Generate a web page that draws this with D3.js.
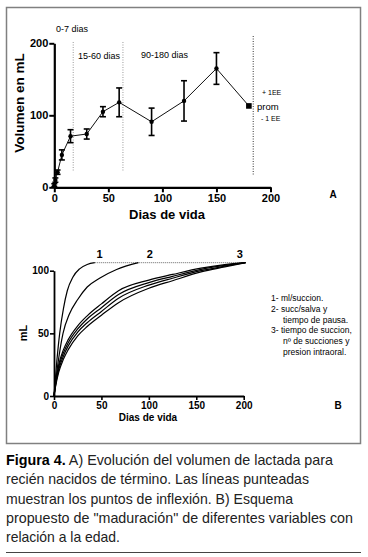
<!DOCTYPE html>
<html><head><meta charset="utf-8">
<script src="https://cdn.jsdelivr.net/npm/d3@7"></script>
<style>
html,body{margin:0;padding:0;background:#fff;}
svg{display:block;font-family:"Liberation Sans",Arial,sans-serif;}
</style></head>
<body>
<svg id="c" width="368" height="557"></svg>
<script>
// ---------- Data: panel A ----------
const daysA = [0, 1, 3, 7, 15, 30, 45, 60, 90, 120, 150, 180];
const meanA = [3, 10, 21, 45, 71, 74, 105, 118, 91, 120, 165, 113];
const seA   = [2, 3, 3, 7, 9, 7, 7, 20, 19, 28, 22, 0];
const inflectionDays = [17.5, 63.5, 184];
const ticksAx = [0, 50, 100, 150, 200];
const ticksAy = [0, 100, 200];
const periodLabels = ["0-7 dias", "15-60 dias", "90-180 dias"];

// ---------- Data: panel B ----------
const daysB1 = [0, 3, 6, 10, 14, 20, 27, 35, 43];
const curveB1 = [0, 28, 50, 70, 84, 95, 101.5, 105, 106.4];
const daysB2 = [0, 4, 9.5, 16, 25, 35, 48, 66, 89];
const curveB2 = [0, 25, 50, 65, 77, 87, 94, 101, 106.4];
const daysB3 = [0, 2, 5, 10, 15, 25, 35, 50, 68, 100, 125, 155, 180, 202];
const curveB3a = [0, 12, 25, 37, 45, 56, 64, 73.5, 84, 92.5, 97, 102, 104.8, 106.4];
const curveB3b = [0, 11, 23, 34.5, 42.5, 53.5, 61.5, 70.5, 81, 90.5, 95.5, 101, 104.2, 106.4];
const curveB3c = [0, 10, 21, 32, 40, 51, 58.5, 67.5, 78, 88.5, 94, 100, 103.6, 106.4];
const curveB3d = [0, 9, 19, 29.5, 37, 48, 55.5, 64.5, 74.5, 86, 92, 99, 103, 106.4];
const plateauB = {from: 43, to: 201, value: 106.4};
const curveLabels = [{t: "1", day: 48}, {t: "2", day: 101}, {t: "3", day: 196}];
const ticksBx = [0, 50, 100, 150, 200];
const ticksBy = [0, 50, 100];
const legendB = [
  {t: "1- ml/succion.", indent: false},
  {t: "2- succ/salva y", indent: false},
  {t: "tiempo de pausa.", indent: true},
  {t: "3- tiempo de succion,", indent: false},
  {t: "n\u00ba de succiones y", indent: true},
  {t: "presion intraoral.", indent: true}
];
const caption = [
  {b: "Figura 4.", r: " A) Evoluci\u00f3n del volumen de lactada para", w: 327},
  {b: "", r: "reci\u00e9n nacidos de t\u00e9rmino. Las l\u00edneas punteadas", w: 303},
  {b: "", r: "muestran los puntos de inflexi\u00f3n. B) Esquema", w: 287},
  {b: "", r: "propuesto de \"maduraci\u00f3n\" de diferentes variables con", w: 347},
  {b: "", r: "relaci\u00f3n a la edad.", w: 114}
];

const svg = d3.select("#c");

// frame
svg.append("rect").attr("x", 6.5).attr("y", 7.5).attr("width", 354).attr("height", 436)
  .attr("fill", "none").attr("stroke", "#808080").attr("stroke-width", 1.5);

// ================= Panel A =================
const xA = d3.scaleLinear().domain([0, 200]).range([54.3, 270.5]);
const yA = d3.scaleLinear().domain([0, 200]).range([187.3, 43.3]);
const gA = svg.append("g");

gA.selectAll("line.infl").data(inflectionDays).join("line")
  .attr("x1", d => xA(d)).attr("x2", d => xA(d))
  .attr("y1", (d, i) => i < 2 ? 42 : 36).attr("y2", (d, i) => i < 2 ? 172 : 175)
  .attr("stroke", (d, i) => i < 2 ? "#999" : "#333").attr("stroke-width", 1)
  .attr("stroke-dasharray", "1,1.5");

const axAx = d3.axisBottom(xA).tickValues(ticksAx).tickSize(5).tickSizeOuter(0).tickPadding(2);
const gAx = gA.append("g").attr("transform", `translate(0,${yA(0)})`).call(axAx);
const axAy = d3.axisLeft(yA).tickValues(ticksAy).tickSize(5).tickSizeOuter(0).tickPadding(1);
const gAy = gA.append("g").attr("transform", `translate(${xA(0)},0)`).call(axAy);
[gAx, gAy].forEach(g => {
  g.select(".domain").attr("stroke", "#000").attr("stroke-width", 2.2);
  g.selectAll(".tick line").attr("stroke", "#000").attr("stroke-width", 2);
  g.selectAll(".tick text").attr("fill", "#000").attr("font-weight", "bold")
    .attr("font-size", 11).attr("font-family", "Liberation Sans, Arial, sans-serif");
});

const lineA = d3.line().x((d, i) => xA(daysA[i])).y(d => yA(d));
gA.append("path").datum(meanA).attr("d", lineA).attr("fill", "none")
  .attr("stroke", "#111").attr("stroke-width", 1);

const eb = gA.selectAll("g.eb").data(daysA.map((d, i) => ({d, m: meanA[i], s: seA[i]})).filter(o => o.s > 0))
  .join("g");
eb.append("line").attr("x1", o => xA(o.d)).attr("x2", o => xA(o.d))
  .attr("y1", o => yA(o.m + o.s)).attr("y2", o => yA(o.m - o.s))
  .attr("stroke", "#000").attr("stroke-width", 1.6);
eb.append("line").attr("x1", o => xA(o.d) - 3).attr("x2", o => xA(o.d) + 3)
  .attr("y1", o => yA(o.m + o.s)).attr("y2", o => yA(o.m + o.s))
  .attr("stroke", "#000").attr("stroke-width", 1.6);
eb.append("line").attr("x1", o => xA(o.d) - 3).attr("x2", o => xA(o.d) + 3)
  .attr("y1", o => yA(o.m - o.s)).attr("y2", o => yA(o.m - o.s))
  .attr("stroke", "#000").attr("stroke-width", 1.6);

const last = daysA.length - 1;
gA.selectAll("circle.pt").data(meanA.slice(0, last)).join("circle")
  .attr("cx", (d, i) => xA(daysA[i])).attr("cy", d => yA(d)).attr("r", 2.2).attr("fill", "#000");
gA.append("rect").attr("x", xA(daysA[last]) - 2.8).attr("y", yA(meanA[last]) - 2.8)
  .attr("width", 5.6).attr("height", 5.6).attr("fill", "#000");

gA.append("text").attr("x", 56).attr("y", 32).attr("font-size", 9).text(periodLabels[0]);
gA.append("text").attr("x", 78).attr("y", 59).attr("font-size", 9).text(periodLabels[1]);
gA.append("text").attr("x", 141).attr("y", 58).attr("font-size", 9).text(periodLabels[2]);
gA.append("text").attr("x", 262).attr("y", 95).attr("font-size", 7).text("+ 1EE");
gA.append("text").attr("x", 257).attr("y", 109.5).attr("font-size", 9.5).text("prom");
gA.append("text").attr("x", 261).attr("y", 121).attr("font-size", 7).text("- 1 EE");
gA.append("text").attr("x", 333).attr("y", 198).attr("font-size", 10).attr("font-weight", "bold")
  .attr("text-anchor", "middle").text("A");
gA.append("text").attr("transform", "translate(24,103) rotate(-90)").attr("text-anchor", "middle")
  .attr("font-size", 13.5).attr("font-weight", "bold").text("Volumen en mL");
gA.append("text").attr("x", 167).attr("y", 219).attr("text-anchor", "middle")
  .attr("font-size", 13).attr("font-weight", "bold").text("Dias de vida");

// ================= Panel B =================
const xB = d3.scaleLinear().domain([0, 200]).range([54, 243.7]);
const yB = d3.scaleLinear().domain([0, 100]).range([396, 270.7]);
const gB = svg.append("g");

const axBx = d3.axisBottom(xB).tickValues(ticksBx).tickSize(4).tickSizeOuter(0).tickPadding(2);
const gBx = gB.append("g").attr("transform", `translate(0,${yB(0)})`).call(axBx);
const axBy = d3.axisLeft(yB).tickValues(ticksBy).tickSize(4).tickSizeOuter(0).tickPadding(1);
const gBy = gB.append("g").attr("transform", `translate(${xB(0)},0)`).call(axBy);
[gBx, gBy].forEach(g => {
  g.select(".domain").attr("stroke", "#000").attr("stroke-width", 1.8);
  g.selectAll(".tick line").attr("stroke", "#000").attr("stroke-width", 1.6);
  g.selectAll(".tick text").attr("fill", "#000").attr("font-weight", "bold")
    .attr("font-size", 10).attr("font-family", "Liberation Sans, Arial, sans-serif");
});

gB.append("line").attr("x1", xB(plateauB.from)).attr("x2", xB(plateauB.to))
  .attr("y1", yB(plateauB.value)).attr("y2", yB(plateauB.value))
  .attr("stroke", "#666").attr("stroke-width", 1).attr("stroke-dasharray", "1,1");

const curvesB = [
  {x: daysB1, y: curveB1}, {x: daysB2, y: curveB2},
  {x: daysB3, y: curveB3a}, {x: daysB3, y: curveB3b},
  {x: daysB3, y: curveB3c}, {x: daysB3, y: curveB3d}
];
curvesB.forEach(c => {
  const ln = d3.line().curve(d3.curveMonotoneX).x((d, i) => xB(c.x[i])).y(d => yB(d));
  gB.append("path").datum(c.y).attr("d", ln).attr("fill", "none")
    .attr("stroke", "#000").attr("stroke-width", 1.2);
});

gB.selectAll("text.cl").data(curveLabels).join("text")
  .attr("x", d => xB(d.day)).attr("y", 258).attr("text-anchor", "middle")
  .attr("font-size", 11).attr("font-weight", "bold").text(d => d.t);

gB.selectAll("text.lg").data(legendB).join("text")
  .attr("x", d => d.indent ? 283 : 271).attr("y", (d, i) => 301 + i * 10.8)
  .attr("font-size", 8.5).text(d => d.t);

gB.append("text").attr("transform", "translate(27,333) rotate(-90)").attr("text-anchor", "middle")
  .attr("font-size", 11).attr("font-weight", "bold").text("mL");
gB.append("text").attr("x", 148).attr("y", 421).attr("text-anchor", "middle")
  .attr("font-size", 10).attr("font-weight", "bold").text("Dias de vida");
gB.append("text").attr("x", 338).attr("y", 409).attr("font-size", 10).attr("font-weight", "bold")
  .attr("text-anchor", "middle").text("B");

// ================= Caption =================
const gc = svg.append("g");
caption.forEach((c, i) => {
  const t = gc.append("text").attr("x", 6).attr("y", 465 + i * 19.3)
    .attr("font-size", 14.5).attr("fill", "#222")
    .attr("textLength", c.w).attr("lengthAdjust", "spacingAndGlyphs");
  if (c.b) t.append("tspan").attr("font-weight", "bold").attr("fill", "#000").text(c.b);
  t.append("tspan").text(c.r);
});
svg.append("line").attr("x1", 6).attr("x2", 361).attr("y1", 552.5).attr("y2", 552.5)
  .attr("stroke", "#444").attr("stroke-width", 1.2);
</script>
</body></html>
